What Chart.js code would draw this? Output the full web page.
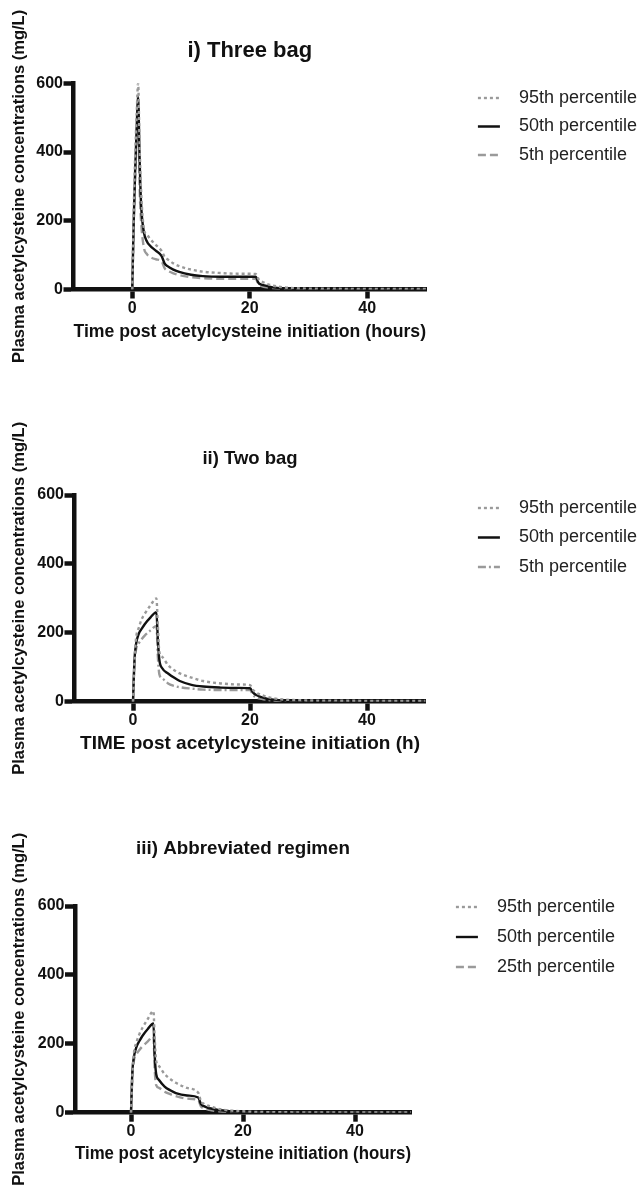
<!DOCTYPE html>
<html>
<head>
<meta charset="utf-8">
<script src="https://cdn.jsdelivr.net/npm/chart.js@4.4.0/dist/chart.umd.min.js"></script>
<style>
  html, body { margin: 0; padding: 0; background: #fff; }
  .panel { position: absolute; left: 0; width: 644px; height: 396px; }
</style>
</head>
<body>
<div class="panel" style="top:0px"><canvas id="c1" width="644" height="396"></canvas></div>
<div class="panel" style="top:396px"><canvas id="c2" width="644" height="396"></canvas></div>
<div class="panel" style="top:792px"><canvas id="c3" width="644" height="396"></canvas></div>
<script>
// ---- data ----
const xTicks = [0, 20, 40];
const yTicks = [0, 200, 400, 600];
const yTitle = 'Plasma acetylcysteine concentrations (mg/L)';

// i) Three bag
const t1 = [0, 0.25, 0.5, 0.75, 1, 1.25, 1.5, 2, 2.5, 3, 4, 5, 5.5, 6, 7, 8, 10, 12, 15, 18, 21, 21.5, 22, 23, 24, 26, 28, 30, 35, 40, 50];
const p95_1 = [0, 230, 390, 510, 600, 420, 290, 175, 160, 148, 130, 112, 95, 88, 76, 68, 58, 52, 48, 46, 45, 30, 24, 16, 11, 6, 3.5, 2.5, 2, 1.5, 1.5];
const p50_1 = [0, 200, 350, 470, 560, 380, 250, 165, 140, 128, 113, 97, 76, 68, 58, 51, 43, 39, 37, 37, 37, 19, 14, 10, 6, 3, 1.5, 1, 0.5, 0.3, 0.2];
const p5_1  = [0, 190, 330, 440, 530, 300, 200, 120, 103, 95, 88, 82, 62, 55, 47, 42, 36, 33, 31, 31, 31, 14, 10, 6, 3.5, 1.5, 0.7, 0.4, 0.2, 0.1, 0];

// ii) Two bag
const t2 = [0, 0.25, 0.5, 1, 1.5, 2, 3, 4, 4.25, 4.5, 5, 6, 7, 8, 10, 12, 15, 18, 20, 20.5, 21, 22, 23, 24, 26, 28, 30, 35, 40, 50];
const p95_2 = [0, 110, 180, 215, 240, 255, 280, 300, 220, 145, 130, 106, 92, 82, 70, 60, 53, 50, 48, 35, 27, 19, 14, 10, 6, 4.5, 3.5, 3, 2.5, 2.5];
const p50_2 = [0, 120, 165, 198, 212, 225, 245, 260, 180, 122, 97, 82, 70, 60, 49, 44, 41, 40, 39, 27, 20, 13, 8, 6, 3, 2, 1, 0.5, 0.3, 0.2];
const p5_2  = [0, 110, 150, 170, 182, 192, 207, 220, 130, 80, 68, 53, 46, 42, 38, 35, 34, 34, 34, 20, 13, 8, 5, 3, 1.5, 0.7, 0.3, 0.1, 0, 0];

// iii) Abbreviated regimen
const t3 = [0, 0.25, 0.5, 1, 1.5, 2, 3, 4, 4.25, 4.5, 5, 6, 7, 8, 10, 12, 12.5, 13, 14, 15, 16, 18, 20, 22, 25, 30, 40, 50];
const p95_3 = [0, 110, 170, 205, 228, 245, 272, 295, 210, 150, 135, 112, 98, 87, 72, 58, 33, 26, 19, 14, 10, 6, 4, 2.5, 1.5, 1, 0.5, 0.5];
const p50_3 = [0, 120, 160, 192, 208, 222, 243, 259, 160, 112, 95, 76, 65, 57, 50, 44, 25, 19, 13, 10, 7, 3.5, 1.5, 0.8, 0.3, 0.1, 0, 0];
const p25_3 = [0, 110, 150, 170, 182, 192, 207, 222, 120, 80, 72, 61, 54, 48, 41, 36, 18, 13, 8, 5, 3, 1, 0.4, 0.2, 0, 0, 0, 0];

const FONT = '"Liberation Sans", Arial, Helvetica, sans-serif';
const INK = '#111';
const GREY = '#9a9a9a';
const X_TITLE_SIZE = 19;
Chart.defaults.font.family = FONT;
Chart.defaults.color = INK;

function line(label, values, color, dash) {
  return {
    label: label, data: values, borderColor: color, backgroundColor: color,
    borderWidth: 2.4, borderDash: dash, pointRadius: 0,
    cubicInterpolationMode: 'monotone', yAxisID: 'y'
  };
}

// legend items take their stroke from the dataset line, with a little extra gap before the text
function legendItems(chart) {
  return Chart.defaults.plugins.legend.labels.generateLabels(chart).map(it => {
    const ds = chart.data.datasets[it.datasetIndex];
    return Object.assign(it, {
      text: '  ' + it.text,
      strokeStyle: ds.borderColor, fillStyle: ds.borderColor,
      lineWidth: ds.borderWidth, lineDash: ds.borderDash
    });
  });
}

// g: plot-area edges and text positions, in canvas pixels
function makeChart(id, title, xTitle, times, datasets, g) {
  const PT = 10, PL = 4;
  const tLh = g.titleSize * 1.2;
  const tTop = g.titleY - PT - tLh / 2;
  const tBot = g.top - PT - tLh - tTop;
  const xBottom = g.xTitleY + X_TITLE_SIZE * 0.6;
  const xH = xBottom - g.bottom;
  const PB = 396 - xBottom;
  const lp = g.rowGap - 18;
  const lTitle = g.row1 - PT - lp - 9;

  new Chart(document.getElementById(id), {
    type: 'line',
    data: { labels: times, datasets: datasets },
    options: {
      responsive: false, animation: false, devicePixelRatio: 1,
      layout: { padding: { top: PT, left: PL, bottom: PB, right: g.padRight } },
      plugins: {
        tooltip: { enabled: false },
        title: {
          display: true, text: title, fullSize: false, color: INK,
          font: { size: g.titleSize, weight: 'bold' },
          padding: { top: tTop, bottom: tBot }
        },
        legend: {
          position: 'right', align: 'start', maxWidth: 300,
          title: { display: true, text: ' ', font: { size: 1, lineHeight: 1 }, padding: { top: lTitle - 1, bottom: 0 } },
          labels: {
            usePointStyle: true, pointStyle: 'line', pointStyleWidth: 22,
            padding: lp, color: '#222', font: { size: 18 },
            generateLabels: legendItems
          }
        }
      },
      scales: {
        x: {
          type: 'linear', min: -10, max: 50,
          afterBuildTicks: (s) => { s.ticks = xTicks.map(v => ({ value: v })); },
          afterFit: (s) => { s.height = xH; },
          grid: { display: true, drawOnChartArea: false, drawTicks: true, tickLength: 9, tickWidth: 4.5, tickColor: INK, color: INK },
          border: { display: true, width: 4.5, color: INK },
          ticks: { color: INK, padding: 0, font: { size: 16, weight: 'bold' } },
          title: { display: true, text: xTitle, color: INK, font: { size: X_TITLE_SIZE, weight: 'bold' }, padding: { top: 0, bottom: 0 } }
        },
        y: {
          type: 'linear', min: 0, max: 600, position: 'left',
          afterBuildTicks: (s) => { s.ticks = yTicks.map(v => ({ value: v })); },
          afterFit: (s) => { s.width = g.left - PL; },
          grid: { display: true, drawOnChartArea: false, drawTicks: true, tickLength: 10, tickWidth: 4.5, tickColor: INK, color: INK },
          border: { display: true, width: 4.5, color: INK },
          ticks: { color: INK, padding: 0.5, font: { size: 16, weight: 'bold' } },
          title: { display: true, text: yTitle, color: INK, font: { size: 16.5, weight: 'bold' }, padding: { top: 6, bottom: 0 } }
        },
        gap: {
          type: 'linear', position: 'right', display: true,
          grid: { display: false }, border: { display: false }, ticks: { display: false },
          afterFit: (s) => { s.width = g.gap; }
        }
      }
    }
  });
}

makeChart('c1', 'i) Three bag', 'Time post acetylcysteine initiation (hours)', t1, [
  line('95th percentile', p95_1, GREY, [3, 3]),
  line('50th percentile', p50_1, INK, []),
  line('5th percentile', p5_1, GREY, [8, 4])
], { left: 73.5, top: 83.3, bottom: 289.5, titleSize: 22, titleY: 51, xTitleY: 332, row1: 98, rowGap: 28.5, padRight: -3, gap: 41.4 });

makeChart('c2', 'ii) Two bag', 'TIME post acetylcysteine initiation (h)', t2, [
  line('95th percentile', p95_2, GREY, [3, 3]),
  line('50th percentile', p50_2, INK, []),
  line('5th percentile', p5_2, GREY, [8, 3, 2, 3])
], { left: 74.5, top: 99, bottom: 305.7, titleSize: 18.5, titleY: 62.7, xTitleY: 347.7, row1: 112, rowGap: 29.5, padRight: -3, gap: 40.9 });

makeChart('c3', 'iii) Abbreviated regimen', 'Time post acetylcysteine initiation (hours)', t3, [
  line('95th percentile', p95_3, GREY, [3, 3]),
  line('50th percentile', p50_3, INK, []),
  line('25th percentile', p25_3, GREY, [8, 4])
], { left: 75, top: 114, bottom: 320.7, titleSize: 18.8, titleY: 56.7, xTitleY: 361.7, row1: 115, rowGap: 30, padRight: 19, gap: 32.9 });
</script>
</body>
</html>
